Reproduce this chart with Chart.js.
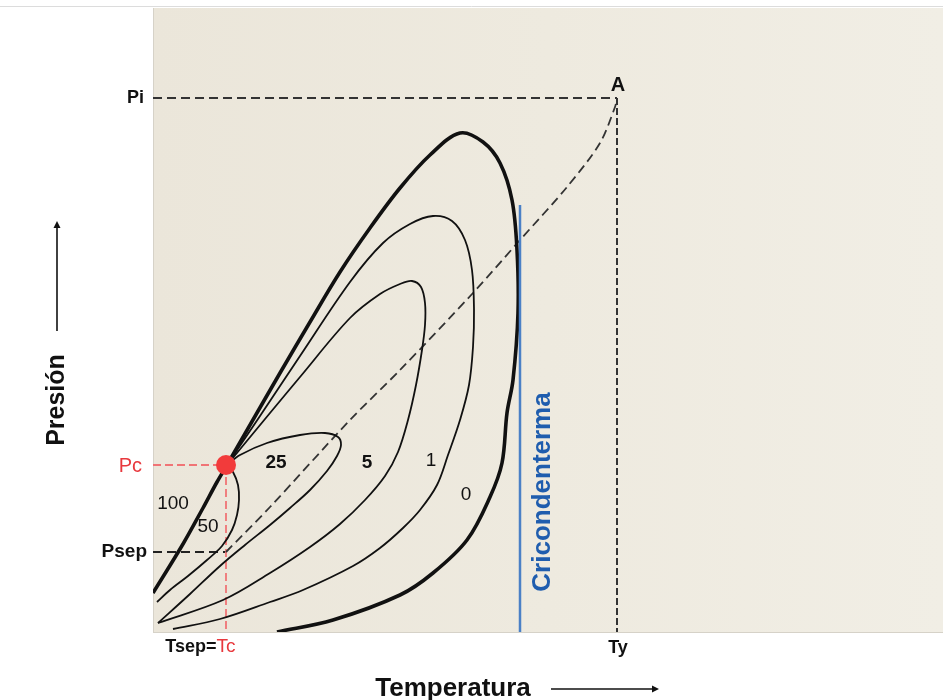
<!DOCTYPE html>
<html>
<head>
<meta charset="utf-8">
<script src="https://cdn.jsdelivr.net/npm/chart.js@4.4.1/dist/chart.umd.min.js"></script>
<style>
  html, body { margin: 0; padding: 0; background: #fff; }
  #wrap { width: 943px; height: 700px; }
</style>
</head>
<body>
<div id="wrap"><canvas id="phaseChart" width="943" height="700"></canvas></div>
<script>
// --- Data (arbitrary T / P units) ---
// phase envelope: bubble curve (100 %) up to the top, then dew curve (0 %)
const envelopeT = [0, 30, 50, 64, 74, 97, 127, 157, 187, 217, 247, 277, 307, 330, 347, 359, 364, 365, 360, 354, 349, 337, 314, 280, 247, 180, 124];
const envelopeP = [39, 88, 124, 150, 167, 207, 259, 310, 360, 404, 444, 477, 499, 490, 469, 432, 382, 319, 252, 219, 169, 135, 92, 59, 37, 12, 0];

// iso-quality lines (% liquid)
const q50T = [74, 80, 85, 86, 84, 79, 69, 54, 35, 17, 4];
const q50P = [167, 160, 147, 132, 117, 102, 86, 72, 56, 42, 30];
const q25T = [74, 87, 114, 147, 172, 185, 188, 184, 174, 157, 137, 117, 92, 67, 37, 5];
const q25P = [167, 177, 189, 197, 199, 195, 187, 176, 161, 142, 124, 107, 87, 66, 38, 9];
const q5T = [74, 117, 147, 197, 227, 247, 259, 268, 272, 272, 269, 263, 255, 245, 232, 212, 187, 157, 117, 70, 5];
const q5P = [167, 219, 255, 314, 338, 348, 351, 345, 329, 307, 282, 247, 212, 180, 156, 132, 108, 85, 59, 32, 9];
const q1T = [74, 107, 147, 197, 230, 257, 280, 299, 312, 319, 321, 320, 316, 307, 295, 284, 267, 250, 227, 200, 150, 117, 67, 20];
const q1P = [167, 216, 276, 350, 389, 408, 416, 411, 392, 362, 322, 285, 247, 212, 177, 147, 122, 104, 84, 66, 42, 30, 13, 3];

// production path from reservoir (A) to separator
const pathT = [73, 117, 197, 247, 320, 367, 414, 447, 462, 464];
const pathP = [80, 125, 212, 262, 339, 392, 445, 489, 525, 534];

// reference values
const Pi = 534, Ty = 464;
const Pc = 167, Tc = 73;
const Psep = 80, Tsep = 73;
const Tcric = 367, PcricTop = 427;

// labels
const qualityLabels = ['100', '50', '25', '5', '1', '0'];
const qualityLabelT = [20, 55, 123, 214, 278, 313];
const qualityLabelP = [128, 105, 169, 169, 171, 137];

const pts = (ts, ps) => ts.map((t, i) => ({ x: t, y: ps[i] }));

const FONT = '"Liberation Sans", Arial, sans-serif';

// --- Plugins ---
const backgroundPlugin = {
    id: 'paper',
    beforeDraw(chart) {
        const { ctx, chartArea: a } = chart;
        ctx.save();
        ctx.fillStyle = '#fff';
        ctx.fillRect(0, 0, chart.width, chart.height);
        const g = ctx.createLinearGradient(a.left, 0, a.right, 0);
        g.addColorStop(0, '#ebe6da');
        g.addColorStop(0.5, '#eeeadf');
        g.addColorStop(1, '#f1eee5');
        ctx.fillStyle = g;
        ctx.fillRect(a.left, a.top, a.right - a.left, a.bottom - a.top);
        ctx.strokeStyle = '#dcdcdc';
        ctx.lineWidth = 1;
        ctx.beginPath();
        ctx.moveTo(0, a.top - 1.5);
        ctx.lineTo(chart.width, a.top - 1.5);
        ctx.stroke();
        ctx.strokeStyle = '#d6d2c8';
        ctx.beginPath();
        ctx.moveTo(a.left + 0.5, a.top);
        ctx.lineTo(a.left + 0.5, a.bottom);
        ctx.moveTo(a.left, a.bottom + 0.5);
        ctx.lineTo(a.right, a.bottom + 0.5);
        ctx.stroke();
        ctx.restore();
    }
};

const textPlugin = {
    id: 'texts',
    afterDatasetsDraw(chart) {
        const { ctx, chartArea: a, scales: { x, y } } = chart;
        ctx.save();
        ctx.textBaseline = 'middle';

        // pressure labels on the left
        ctx.textAlign = 'right';
        ctx.font = 'bold 18px ' + FONT;
        ctx.fillStyle = '#111';
        ctx.fillText('Pi', a.left - 9, y.getPixelForValue(Pi));
        ctx.font = 'bold 19px ' + FONT;
        ctx.fillText('Psep', a.left - 6, y.getPixelForValue(Psep));
        ctx.fillStyle = '#e8383d';
        ctx.font = '20px ' + FONT;
        ctx.fillText('Pc', a.left - 11, y.getPixelForValue(Pc) + 1);

        // temperature labels below
        const tcX = x.getPixelForValue(Tc);
        ctx.font = '19px ' + FONT;
        const tcW = ctx.measureText('Tc').width;
        ctx.textAlign = 'center';
        ctx.fillStyle = '#e8383d';
        ctx.fillText('Tc', tcX, a.bottom + 15);
        ctx.textAlign = 'right';
        ctx.fillStyle = '#111';
        ctx.font = 'bold 18px ' + FONT;
        ctx.fillText('Tsep=', tcX - tcW / 2, a.bottom + 15);
        ctx.textAlign = 'center';
        ctx.fillText('Ty', x.getPixelForValue(Ty) + 1, a.bottom + 16);

        // point A
        ctx.font = 'bold 20px ' + FONT;
        ctx.fillText('A', x.getPixelForValue(Ty) + 1, y.getPixelForValue(Pi) - 13);

        // quality numbers
        qualityLabels.forEach((lbl, i) => {
            ctx.font = (lbl === '25' || lbl === '5' ? 'bold ' : '') + '19px ' + FONT;
            ctx.fillStyle = '#111';
            ctx.fillText(lbl, x.getPixelForValue(qualityLabelT[i]), y.getPixelForValue(qualityLabelP[i]));
        });

        // cricondentherm label
        ctx.save();
        ctx.translate(x.getPixelForValue(Tcric) + 23, y.getPixelForValue(140));
        ctx.rotate(-Math.PI / 2);
        ctx.font = 'bold 26px ' + FONT;
        ctx.fillStyle = '#1f5dae';
        ctx.fillText('Cricondenterma', 0, 0);
        ctx.restore();

        // axis titles with arrows
        ctx.fillStyle = '#111';
        ctx.strokeStyle = '#111';
        ctx.lineWidth = 1.6;
        ctx.font = 'bold 25px ' + FONT;
        ctx.save();
        ctx.translate(57, 400);
        ctx.rotate(-Math.PI / 2);
        ctx.fillText('Presión', 0, 0);
        ctx.restore();
        ctx.beginPath();
        ctx.moveTo(57, 331);
        ctx.lineTo(57, 226);
        ctx.stroke();
        ctx.beginPath();
        ctx.moveTo(57, 221); ctx.lineTo(53.5, 228); ctx.lineTo(60.5, 228); ctx.closePath();
        ctx.fill();

        ctx.font = 'bold 26px ' + FONT;
        ctx.fillText('Temperatura', 453, 689);
        ctx.beginPath();
        ctx.moveTo(551, 689);
        ctx.lineTo(653, 689);
        ctx.stroke();
        ctx.beginPath();
        ctx.moveTo(659, 689); ctx.lineTo(652, 685.5); ctx.lineTo(652, 692.5); ctx.closePath();
        ctx.fill();

        ctx.restore();
    }
};

// --- Chart ---
const line = (data, opts) => Object.assign({
    data, showLine: true, pointRadius: 0, borderColor: '#111', borderWidth: 1.8,
    tension: 0.35, fill: false
}, opts);

// Chart.js paints the first dataset on top, so the list runs top -> bottom
const ctxPhase = document.getElementById('phaseChart').getContext('2d');
new Chart(ctxPhase, {
    type: 'scatter',
    data: {
        datasets: [
            { data: [{ x: Tc, y: Pc }], pointRadius: 10, pointBackgroundColor: '#f23b3b', pointBorderWidth: 0, showLine: false },
            line([{ x: Tcric, y: PcricTop }, { x: Tcric, y: 0 }], { borderColor: '#4a80c6', borderWidth: 2.5, tension: 0 }),
            line(pts(envelopeT, envelopeP), { borderWidth: 3.6 }),
            line(pts(q1T, q1P)),
            line(pts(q5T, q5P)),
            line(pts(q25T, q25P)),
            line(pts(q50T, q50P)),
            line(pts(pathT, pathP), { borderColor: '#333', borderDash: [9, 5], tension: 0.3 }),
            line([{ x: Tc, y: Pc }, { x: Tc, y: 0 }], { borderColor: '#f07476', borderDash: [8, 4], tension: 0 }),
            line([{ x: 0, y: Pc }, { x: Tc, y: Pc }], { borderColor: '#f07476', borderDash: [8, 4], tension: 0 }),
            line([{ x: 0, y: Psep }, { x: Tsep, y: Psep }], { borderColor: '#222', borderDash: [9, 5], tension: 0 }),
            line([{ x: Ty, y: Pi }, { x: Ty, y: 0 }], { borderColor: '#333', borderWidth: 2, borderDash: [7, 3], tension: 0 }),
            line([{ x: 0, y: Pi }, { x: Ty, y: Pi }], { borderColor: '#333', borderDash: [9, 5], tension: 0 })
        ]
    },
    options: {
        responsive: false,
        animation: false,
        devicePixelRatio: 1,
        layout: { autoPadding: false, padding: { left: 153, top: 8, right: 0, bottom: 68 } },
        plugins: { legend: { display: false }, tooltip: { enabled: false } },
        scales: {
            x: { type: 'linear', min: 0, max: 790, display: false },
            y: { type: 'linear', min: 0, max: 624, display: false }
        }
    },
    plugins: [backgroundPlugin, textPlugin]
});
</script>
</body>
</html>
